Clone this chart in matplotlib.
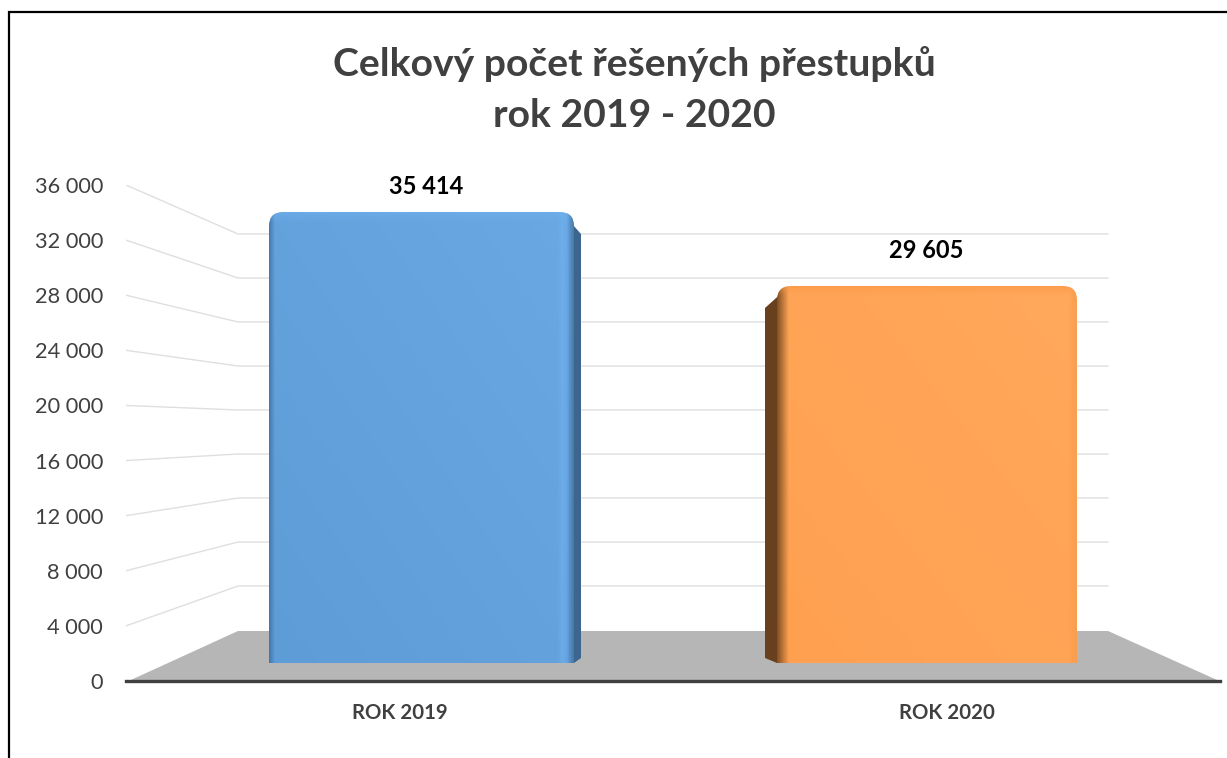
import numpy as np
import matplotlib
matplotlib.use("Agg")
import matplotlib.pyplot as plt
from matplotlib.path import Path
from matplotlib.patches import PathPatch, Polygon
from matplotlib.lines import Line2D

# ---- data ----
categories = ["ROK 2019", "ROK 2020"]
values = [35414, 29605]
value_labels = ["35 414", "29 605"]
title = "Celkový počet řešených přestupků\nrok 2019 - 2020"
y_ticks = list(range(0, 36001, 4000))

# ---- style ----
W, H = 1227, 758
AX_L, AX_R, AX_T, AX_B = 126, 1220, 185, 681
plt.rcParams["font.family"] = ["Lato", "DejaVu Sans"]
GREY = "#404040"

fig = plt.figure(figsize=(W / 100, H / 100), dpi=100, facecolor="white")
ax = fig.add_axes([AX_L / W, 1 - AX_B / H, (AX_R - AX_L) / W, (AX_B - AX_T) / H])
ax.set_xlim(-0.5, 1.5)
ax.set_ylim(0, 36000)
ax.set_facecolor("none")
PX_X = 2 / (AX_R - AX_L)          # data x units per pixel
PX_Y = 36000 / (AX_B - AX_T)      # data y units per pixel

# perspective of the 3-D box
BACK_L = -0.5 + 112 * PX_X
BACK_R = -0.5 + 982 * PX_X
FLOOR_BACK = 50 * PX_Y
BACK_K = 0.7984
def back(v):
    return 51 * PX_Y + v * BACK_K

# walls + floor
ax.add_patch(Polygon([(-0.5 + 4 * PX_X, 0.6 * PX_Y), (BACK_L, FLOOR_BACK), (BACK_R, FLOOR_BACK),
                      (1.5 - 2 * PX_X, 0.6 * PX_Y)], closed=True, fc="#b6b6b6", ec="none", zorder=1))
for v in y_ticks[1:]:
    ax.plot([-0.5, BACK_L, BACK_R], [v, back(v), back(v)], color="#dfdfdf", lw=1.0, zorder=1,
            solid_joinstyle="miter")

# bars
BASE = 18 * PX_Y
BAR_K = 451 * PX_Y / values[0]
shift_px = [22, -19.5]
half_px = [152.5, 150]
side_px = [7, -12]
label_dx_px = [26.5, -20]
label_dy_px = [26, 35]
palettes = [
    dict(main0=(94, 156, 216), main1=(106, 168, 228), side=(60, 102, 142)),
    dict(main0=(255, 160, 80), main1=(255, 168, 92), side=(104, 64, 30)),
]

def top_round(x0, x1, y0, y1, rx, ry):
    verts = [(x0, y0), (x0, y1 - ry), (x0, y1), (x0 + rx, y1), (x1 - rx, y1), (x1, y1), (x1, y1 - ry),
             (x1, y0), (x0, y0)]
    codes = [Path.MOVETO, Path.LINETO, Path.CURVE3, Path.CURVE3, Path.LINETO, Path.CURVE3, Path.CURVE3,
             Path.LINETO, Path.CLOSEPOLY]
    return Path(verts, codes)

for i, (cat, val) in enumerate(zip(categories, values)):
    pal = palettes[i]
    xc = i + shift_px[i] * PX_X
    x0, x1 = xc - half_px[i] * PX_X, xc + half_px[i] * PX_X
    y0, y1 = BASE, BASE + val * BAR_K
    d = side_px[i] * PX_X
    # side face
    edge = x1 if d > 0 else x0
    inner = edge - np.sign(d) * 12 * PX_X
    ax.add_patch(Polygon([(edge, y0), (edge + d, y0 + 5 * PX_Y), (edge + d, y1 - 22 * PX_Y),
                          (inner, y1 - 0.5 * PX_Y), (inner, y0)], closed=True,
                         fc=np.array(pal["side"]) / 255, ec="none", zorder=2))
    # front face: shaded image clipped to a rounded outline
    nx, ny = int(half_px[i] * 2), int((y1 - y0) / PX_Y)
    u = (np.arange(nx) + 0.5)[None, :]
    w = (np.arange(ny) + 0.5)[:, None]      # w = pixels from the top
    t = (u / nx + (ny - w) / ny) / 2
    img = np.zeros((ny, nx, 3))
    for c in range(3):
        img[..., c] = pal["main0"][c] + (pal["main1"][c] - pal["main0"][c]) * t
    def blend(mask, col):
        for c in range(3):
            img[..., c] = img[..., c] * (1 - mask) + col[c] * mask
    lr = np.broadcast_to(u, (ny, nx))
    tb = np.broadcast_to(w, (ny, nx))
    if i == 0:
        blend(np.clip(1 - lr / 6, 0, 1) * 0.75, (58, 104, 150))
        blend(np.clip(1 - tb / 10, 0, 1) * 0.5, (110, 178, 240))
        blend(np.clip(1 - np.abs(lr - (nx - 11)) / 6, 0, 1) * 0.6, (112, 178, 238))
        blend(np.clip(1 - (nx - lr) / 7, 0, 1) * 0.8, (62, 108, 150))
    else:
        blend(np.clip(1 - lr / 12, 0, 1) * 0.95, (120, 74, 32))
        blend(np.clip(1 - tb / 10, 0, 1) * 0.6, (250, 152, 66))
        blend(np.clip(1 - (nx - lr) / 8, 0, 1) * 0.6, (248, 152, 70))
    img = img.clip(0, 255).astype(np.uint8)
    im = ax.imshow(img, extent=(x0, x1, y0, y1), origin="upper", aspect="auto", zorder=3,
                   interpolation="bilinear")
    clip = PathPatch(top_round(x0, x1, y0, y1, 14 * PX_X, 14 * PX_Y), fc="none", ec="none",
                     transform=ax.transData)
    ax.add_patch(clip)
    im.set_clip_path(clip)
    # value label
    ax.annotate(value_labels[i], (i + label_dx_px[i] * PX_X, y1), xytext=(0, label_dy_px[i] * 0.72),
                textcoords="offset points", ha="center", va="center", fontsize=17,
                fontweight="bold", color="black", zorder=5)

ax.set_xlim(-0.5, 1.5)
ax.set_ylim(0, 36000)

# axes
ax.set_yticks(y_ticks)
ax.set_yticklabels([f"{v:,}".replace(",", " ") for v in y_ticks], fontsize=15.7, color=GREY)
ax.set_xticks(range(len(categories)))
ax.set_xticklabels(categories, fontsize=14.7, fontweight="bold", color=GREY)
ax.tick_params(axis="y", length=0, pad=16.5)
ax.tick_params(axis="x", length=0, pad=16)
for s in ("top", "left", "right"):
    ax.spines[s].set_visible(False)
ax.spines["bottom"].set_color(GREY)
ax.spines["bottom"].set_linewidth(2.4)
ax.spines["bottom"].set_zorder(4)

ax.set_title(title, x=(634 - AX_L) / (AX_R - AX_L), y=1.0, pad=42, fontsize=28.2, fontweight="bold",
             color=GREY, linespacing=1.55)

# outer frame
fig.add_artist(Line2D([8.5 / W, 8.5 / W, 1], [0, 1 - 12 / H, 1 - 12 / H], color="black", lw=1.6,
                      transform=fig.transFigure, solid_joinstyle="miter"))

fig.savefig("out.png", dpi=100, facecolor="white")
